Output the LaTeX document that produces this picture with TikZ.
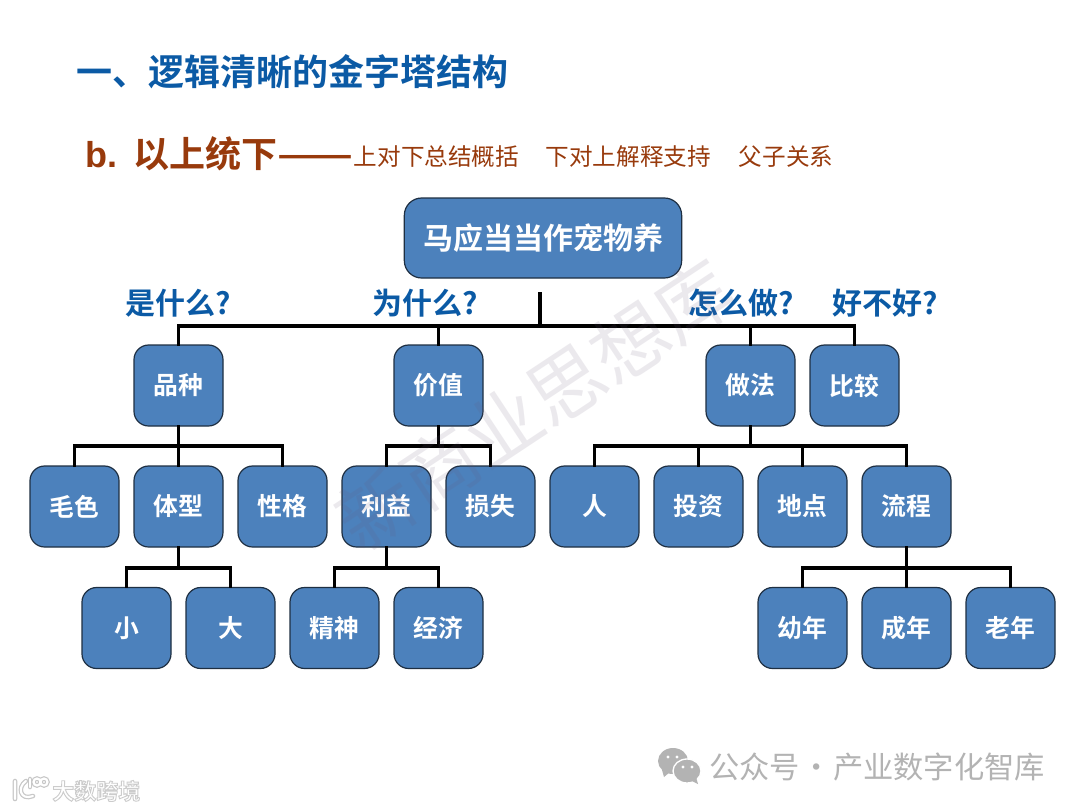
\documentclass[tikz,border=0pt]{standalone}
\usepackage{fontspec}
\usepackage{graphicx}
\setmainfont{Noto Sans CJK SC}
\newfontfamily\cjkb{Noto Sans CJK SC Bold}
\newfontfamily\cjkr{Noto Sans CJK SC}
\newfontfamily\latb{Liberation Sans Bold}
\usetikzlibrary{calc}
\definecolor{boxfill}{HTML}{4C81BC}
\definecolor{boxline}{HTML}{1E2F42}
\definecolor{titleblue}{HTML}{0B5AA5}
\definecolor{brownred}{HTML}{983A0C}
\definecolor{footgray}{HTML}{B3B3B3}
\definecolor{wmark}{HTML}{6A5A78}
\newcommand{\glowtext}[1]{\special{pdf:code 2 Tr 0.7 w 0.8 G}#1\special{pdf:code 0 Tr}}
\tikzset{
  px/.style={x=0.75pt,y=-0.75pt},
  treebox/.style={draw=boxline,line width=0.9pt,fill=boxfill,rounded corners=11pt,
    minimum width=66.75pt,minimum height=60.75pt,inner sep=0pt,text=white,
    font=\cjkb\fontsize{18.6pt}{20pt}\selectfont},
  rootbox/.style={treebox,minimum width=208pt,minimum height=60pt,rounded corners=13pt,
    font=\cjkb\fontsize{22.5pt}{24pt}\selectfont},
  conn/.style={draw=black,line width=2.3pt,line cap=rect},
  ask/.style={text=titleblue,inner sep=0pt,font=\cjkb\fontsize{22.5pt}{24pt}\selectfont},
  logoback/.style={draw=black!22,line width=3.4pt,line cap=round},
  logofront/.style={draw=white,line width=1.6pt,line cap=round},
}
\begin{document}
\begin{tikzpicture}[px]
\useasboundingbox[fill=white] (0,0) rectangle (1080,810);
% headings
\node[anchor=west,inner sep=0pt,text=titleblue,font=\cjkb\fontsize{27pt}{29pt}\selectfont] (title) at (76,72) {一、逻辑清晰的金字塔结构};
\node[anchor=west,inner sep=0pt,text=brownred] (sub) at (85,154) {{\latb\fontsize{27pt}{29pt}\selectfont b.\hspace{12.5pt}}{\cjkb\fontsize{27pt}{29pt}\selectfont 以上统下\scalebox{1.24}[1]{——}}\raisebox{2pt}{\cjkr\fontsize{17.7pt}{20pt}\selectfont 上对下总结概括\hspace{20pt}下对上解释支持\hspace{21pt}父子关系}};
% nodes
\node[rootbox] (root) at (543,238) {马应当当作宠物养};
\node[treebox] (pz) at (178.5,385.5) {品种};
\node[treebox] (jz) at (438.5,385.5) {价值};
\node[treebox] (zf) at (750.5,385.5) {做法};
\node[treebox] (bj) at (854.5,385.5) {比较};
\node[treebox] (ms) at (74.5,506.5) {毛色};
\node[treebox] (tx) at (178.5,506.5) {体型};
\node[treebox] (xg) at (282.5,506.5) {性格};
\node[treebox] (ly) at (386.5,506.5) {利益};
\node[treebox] (ss) at (490.5,506.5) {损失};
\node[treebox] (ren) at (594.5,506.5) {人};
\node[treebox] (tz) at (698.5,506.5) {投资};
\node[treebox] (dd) at (802.5,506.5) {地点};
\node[treebox] (lc) at (906.5,506.5) {流程};
\node[treebox] (xiao) at (126.5,628) {小};
\node[treebox] (da) at (230.5,628) {大};
\node[treebox] (js) at (334.5,628) {精神};
\node[treebox] (ji) at (438.5,628) {经济};
\node[treebox] (yn) at (802.5,628) {幼年};
\node[treebox] (cn) at (906.5,628) {成年};
\node[treebox] (ln) at (1010.5,628) {老年};
% question labels
\node[ask] (q1) at (178.5,303.5) {是什么?};
\node[ask] (q2) at (425.5,303.5) {为什么?};
\node[ask] (q3) at (741,303.5) {怎么做?};
\node[ask] (q4) at (885,303.5) {好不好?};
% connectors
\coordinate (stub) at (540,294);
\coordinate (busA) at (540,326);
\coordinate (busB) at (0,446);
\coordinate (busC) at (0,568);
\draw[conn] (stub) -- (busA);
\draw[conn] (pz.north) -- (pz.north |- busA) -- (bj.north |- busA) -- (bj.north);
\draw[conn] (jz.north) -- (jz.north |- busA);
\draw[conn] (zf.north) -- (zf.north |- busA);
\draw[conn] (ms.north) -- (ms.north |- busB) -- (xg.north |- busB) -- (xg.north);
\draw[conn] (pz.south) -- (tx.north);
\draw[conn] (ly.north) -- (ly.north |- busB) -- (ss.north |- busB) -- (ss.north);
\draw[conn] (jz.south) -- (jz.south |- busB);
\draw[conn] (ren.north) -- (ren.north |- busB) -- (lc.north |- busB) -- (lc.north);
\draw[conn] (zf.south) -- (zf.south |- busB);
\draw[conn] (tz.north) -- (tz.north |- busB);
\draw[conn] (dd.north) -- (dd.north |- busB);
\draw[conn] (xiao.north) -- (xiao.north |- busC) -- (da.north |- busC) -- (da.north);
\draw[conn] (tx.south) -- (tx.south |- busC);
\draw[conn] (js.north) -- (js.north |- busC) -- (ji.north |- busC) -- (ji.north);
\draw[conn] (ly.south) -- (ly.south |- busC);
\draw[conn] (yn.north) -- (yn.north |- busC) -- (ln.north |- busC) -- (ln.north);
\draw[conn] (lc.south) -- (cn.north);
% watermark
\node[rotate=33.5,inner sep=0pt,text=wmark,opacity=0.13,font=\cjkr\fontsize{57pt}{60pt}\selectfont] (wm) at (535,405) {新商业思想库};
% footer right
\fill[footgray] (673,761) ellipse (15 and 13);
\fill[footgray] (662,770) -- (664,777) -- (670,772) -- cycle;
\draw[white,line width=1pt,fill=footgray] (687,771) ellipse (14 and 12);
\fill[footgray] (692,781) -- (698,784) -- (696,777) -- cycle;
\fill[white] (668,757) circle (1.7) (677,757) circle (1.7) (683,767) circle (1.6) (692,767) circle (1.6);
\node[anchor=west,inner sep=0pt,text=footgray,font=\cjkr\fontsize{22.7pt}{24pt}\selectfont] (foot) at (709,767) {公众号\hspace{1pt}·\hspace{1pt}产业数字化智库};
% footer left
\node[anchor=west,inner sep=0pt,text=white,font=\cjkb\fontsize{16.5pt}{18pt}\selectfont] (logo) at (52,791) {\glowtext{大数跨境}};
\foreach \layer in {logoback,logofront}{
  \draw[\layer] (15,781) -- (15,799) (26,781) .. controls (17,787) and (20,801) .. (33,796);
  \draw[\layer] (30,779) -- (30,787);
  \draw[\layer] (37,782) circle (3.5) (44,782) circle (3.5);
}
\end{tikzpicture}
\end{document}
